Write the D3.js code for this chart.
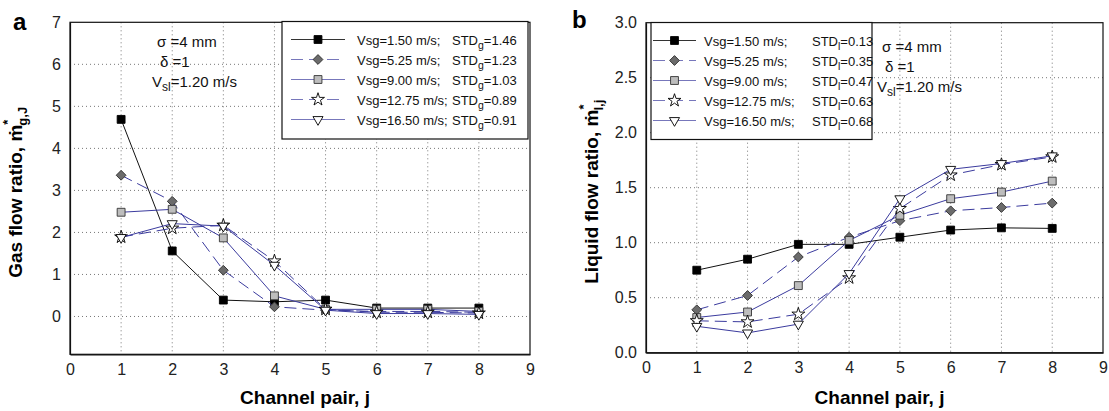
<!DOCTYPE html>
<html>
<head>
<meta charset="utf-8">
<script src="https://cdn.jsdelivr.net/npm/d3@7"></script>
<style>
  body { margin: 0; background: #fff; }
  svg { font-family: "Liberation Sans", Arial, sans-serif; }
  .tick text { fill: #222; }
</style>
</head>
<body>
<svg id="chart" width="1109" height="411"></svg>
<script>
// channel pairs on the x axis
const channels = [1, 2, 3, 4, 5, 6, 7, 8];
const xTicks = [0, 1, 2, 3, 4, 5, 6, 7, 8, 9];
const gasTicks = [0, 1, 2, 3, 4, 5, 6, 7];
const liqTicks = [0, 0.5, 1.0, 1.5, 2.0, 2.5, 3.0];

const seriesNames = ['Vsg=1.50 m/s;', 'Vsg=5.25 m/s;', 'Vsg=9.00 m/s;', 'Vsg=12.75 m/s;', 'Vsg=16.50 m/s;'];
const gasStd = ['1.46', '1.23', '1.03', '0.89', '0.91'];
const liqStd = ['0.13', '0.35', '0.47', '0.63', '0.68'];

// gas flow ratio per channel pair
const gas150 = [4.69, 1.56, 0.39, 0.35, 0.39, 0.20, 0.20, 0.20];
const gas525 = [3.36, 2.74, 1.10, 0.23, 0.15, 0.12, 0.12, 0.10];
const gas900 = [2.48, 2.55, 1.87, 0.49, 0.17, 0.17, 0.17, 0.12];
const gas1275 = [1.89, 2.10, 2.17, 1.32, 0.17, 0.10, 0.10, 0.08];
const gas1650 = [1.88, 2.21, 2.15, 1.22, 0.15, 0.07, 0.07, 0.05];

// liquid flow ratio per channel pair
const liq150 = [0.75, 0.85, 0.985, 0.985, 1.05, 1.115, 1.135, 1.13];
const liq525 = [0.39, 0.52, 0.87, 1.05, 1.20, 1.29, 1.32, 1.36];
const liq900 = [0.32, 0.37, 0.61, 1.02, 1.25, 1.40, 1.46, 1.56];
const liq1275 = [0.29, 0.28, 0.35, 0.68, 1.31, 1.615, 1.71, 1.78];
const liq1650 = [0.24, 0.18, 0.26, 0.72, 1.40, 1.667, 1.72, 1.79];

const blue = '#3b3b9e';
const styles = [
  {line: '#111', dash: null, shape: 'square', fill: '#000', stroke: '#000'},
  {line: blue, dash: '12,6', shape: 'diamond', fill: '#6b6b6b', stroke: '#333'},
  {line: blue, dash: null, shape: 'square', fill: '#bdbdbd', stroke: '#333'},
  {line: blue, dash: '12,6', shape: 'star', fill: '#fff', stroke: '#000'},
  {line: blue, dash: null, shape: 'tri', fill: '#fff', stroke: '#000'}
];

const svg = d3.select('#chart');

function marker(sel, shape) {
  if (shape === 'square') {
    sel.attr('d', d3.symbol(d3.symbolSquare, 62)());
  } else if (shape === 'diamond') {
    sel.attr('d', d3.symbol(d3.symbolSquare, 48)()).attr('data-rot', 45);
  } else if (shape === 'star') {
    sel.attr('d', d3.symbol(d3.symbolStar, 52)());
  } else {
    sel.attr('d', d3.symbol(d3.symbolTriangle, 44)()).attr('data-rot', 180);
  }
}

function drawMarker(g, x, y, st) {
  const p = g.append('path')
    .attr('fill', st.fill)
    .attr('stroke', st.stroke)
    .attr('stroke-width', 0.9);
  marker(p, st.shape);
  const rot = p.attr('data-rot') || 0;
  p.attr('transform', `translate(${x},${y}) rotate(${rot})`);
}

function drawPanel(cfg) {
  const x = d3.scaleLinear().domain([0, 9]).range([cfg.left, cfg.right]);
  const y = d3.scaleLinear().domain(cfg.yDomain).range([cfg.bottom, cfg.top]);
  const g = svg.append('g');

  // dotted grid
  g.selectAll('.vgrid').data(channels).join('line')
    .attr('x1', d => x(d)).attr('x2', d => x(d))
    .attr('y1', cfg.top).attr('y2', cfg.bottom)
    .attr('stroke', '#777').attr('stroke-width', 1).attr('stroke-dasharray', '1,3');
  g.selectAll('.hgrid').data(cfg.yTicks.filter(t => t > cfg.yDomain[0] && t < cfg.yDomain[1])).join('line')
    .attr('x1', cfg.left).attr('x2', cfg.right)
    .attr('y1', d => y(d)).attr('y2', d => y(d))
    .attr('stroke', '#777').attr('stroke-width', 1).attr('stroke-dasharray', '1,3');

  // frame
  g.append('rect')
    .attr('x', cfg.left).attr('y', cfg.top)
    .attr('width', cfg.right - cfg.left).attr('height', cfg.bottom - cfg.top)
    .attr('fill', 'none').attr('stroke', '#111').attr('stroke-width', 1.2);

  const xAxis = d3.axisBottom(x).tickValues(xTicks).tickSize(0).tickPadding(9).tickFormat(d3.format('d'));
  const yAxis = d3.axisLeft(y).tickValues(cfg.yTicks).tickSize(0).tickPadding(9).tickFormat(cfg.fmt);
  g.append('g').attr('transform', `translate(0,${cfg.bottom})`).call(xAxis)
    .call(a => a.select('.domain').attr('stroke', '#111').attr('stroke-width', 1.2))
    .selectAll('text').attr('font-size', 16);
  g.append('g').attr('transform', `translate(${cfg.left},0)`).call(yAxis)
    .call(a => a.select('.domain').attr('stroke', '#111').attr('stroke-width', 1.2))
    .selectAll('text').attr('font-size', 16);

  // series
  const line = d3.line().x((d, i) => x(channels[i])).y(d => y(d));
  cfg.series.forEach((vals, k) => {
    const st = styles[k];
    g.append('path').datum(vals)
      .attr('d', line)
      .attr('fill', 'none')
      .attr('stroke', st.line)
      .attr('stroke-width', 1)
      .attr('stroke-dasharray', st.dash);
    vals.forEach((v, i) => drawMarker(g, x(channels[i]), y(v), st));
  });

  // legend
  const lg = g.append('g');
  lg.append('rect')
    .attr('x', cfg.legend.x).attr('y', cfg.legend.y)
    .attr('width', cfg.legend.w).attr('height', cfg.legend.h)
    .attr('fill', '#fff').attr('stroke', '#111').attr('stroke-width', 1.2);
  seriesNames.forEach((name, k) => {
    const st = styles[k];
    const ry = cfg.legend.y + 18 + k * 20;
    const lx0 = cfg.legend.x + cfg.legend.sample0;
    const lx1 = cfg.legend.x + cfg.legend.sample1;
    lg.append('line')
      .attr('x1', lx0).attr('x2', lx1).attr('y1', ry).attr('y2', ry)
      .attr('stroke', k === 0 ? '#333' : '#7777bb').attr('stroke-width', 1.2)
      .attr('stroke-dasharray', st.dash);
    drawMarker(lg, (lx0 + lx1) / 2, ry, st);
    lg.append('text')
      .attr('x', cfg.legend.x + cfg.legend.text0).attr('y', ry + 5)
      .attr('font-size', 13).attr('fill', '#111')
      .text(name);
    const t = lg.append('text')
      .attr('x', cfg.legend.x + cfg.legend.text1).attr('y', ry + 5)
      .attr('font-size', 13).attr('fill', '#111');
    t.append('tspan').text('STD');
    t.append('tspan').attr('font-size', 10.5).attr('dy', 4).text(cfg.stdSub);
    t.append('tspan').attr('dy', -4).text('=' + cfg.std[k]);
  });

  // annotation
  const an = g.append('g').attr('font-size', 15).attr('fill', '#111');
  an.append('text').attr('x', cfg.note.x + 5).attr('y', cfg.note.y).text('\u03c3 =4 mm');
  an.append('text').attr('x', cfg.note.x + 8).attr('y', cfg.note.y + 20).text('\u03b4 =1');
  const vt = an.append('text').attr('x', cfg.note.x).attr('y', cfg.note.y + 40);
  vt.append('tspan').text('V');
  vt.append('tspan').attr('font-size', 12).attr('dy', 4).text('sl');
  vt.append('tspan').attr('dy', -4).text('=1.20 m/s');

  // panel letter
  g.append('text').attr('x', cfg.letter.x).attr('y', cfg.letter.y)
    .attr('font-size', 24).attr('font-weight', 'bold').text(cfg.letter.t);

  // axis titles
  g.append('text')
    .attr('x', (cfg.left + cfg.right) / 2 + 5).attr('y', 404)
    .attr('text-anchor', 'middle').attr('font-size', 19).attr('font-weight', 'bold')
    .text('Channel pair, j');
  const yt = g.append('text')
    .attr('transform', `translate(${cfg.left - 48},${(cfg.top + cfg.bottom) / 2 + 4}) rotate(-90)`)
    .attr('text-anchor', 'middle').attr('font-size', 19).attr('font-weight', 'bold');
  yt.append('tspan').text(cfg.yTitle + ' \u1e41');
  yt.append('tspan').attr('font-size', 13).attr('dy', -10).text('*');
  yt.append('tspan').attr('font-size', 13).attr('dx', -6).attr('dy', 15).text(cfg.ySub);
}

drawPanel({
  left: 70, right: 530, top: 22.3, bottom: 354.3,
  yDomain: [-0.9, 7], yTicks: gasTicks, fmt: d3.format('d'),
  series: [gas150, gas525, gas900, gas1275, gas1650],
  std: gasStd, stdSub: 'g',
  legend: {x: 282, y: 21.5, w: 246, h: 117.5, sample0: 9, sample1: 63, text0: 75, text1: 170},
  note: {x: 152, y: 47},
  letter: {x: 13, y: 30, t: 'a'},
  yTitle: 'Gas flow ratio,', ySub: 'g,J'
});

drawPanel({
  left: 646, right: 1103, top: 22.7, bottom: 352.7,
  yDomain: [0, 3], yTicks: liqTicks, fmt: d3.format('.1f'),
  series: [liq150, liq525, liq900, liq1275, liq1650],
  std: liqStd, stdSub: 'l',
  legend: {x: 651, y: 22.5, w: 221, h: 117, sample0: 2, sample1: 45, text0: 53, text1: 161},
  note: {x: 877, y: 52},
  letter: {x: 572, y: 28, t: 'b'},
  yTitle: 'Liquid flow ratio,', ySub: 'l,j'
});
</script>
</body>
</html>
